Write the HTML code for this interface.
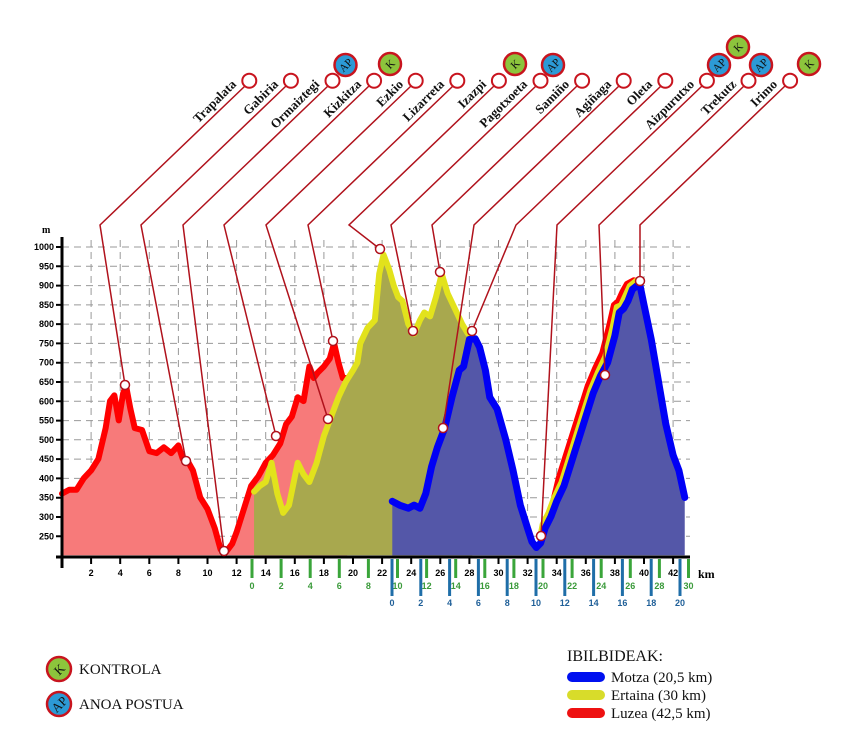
<!DOCTYPE html>
<html><head><meta charset="utf-8"><style>
html,body{margin:0;padding:0;background:#fff;}
svg{display:block;}
</style></head><body>
<svg width="850" height="743" viewBox="0 0 850 743" xmlns="http://www.w3.org/2000/svg">
<rect width="850" height="743" fill="#fff"/>
<!-- grid -->
<g stroke="#999" stroke-width="1" stroke-dasharray="7,5">
<path d="M62,247H690M62,266.3H690M62,285.6H690M62,304.9H690M62,324.1H690M62,343.4H690M62,362.7H690M62,382H690M62,401.3H690M62,420.6H690M62,439.8H690M62,459.1H690M62,478.4H690M62,497.7H690M62,517H690M62,536.3H690"/>
<path d="M91.1,240V555M120.2,240V555M149.3,240V555M178.4,240V555M207.5,240V555M236.6,240V555M265.7,240V555M294.8,240V555M323.9,240V555M353,240V555M382.1,240V555M411.2,240V555M440.3,240V555M469.4,240V555M498.5,240V555M527.6,240V555M556.7,240V555M585.8,240V555M614.9,240V555M644,240V555M673.1,240V555"/>
</g>
<!-- profiles in data coords -->
<g transform="translate(62,632.3) scale(14.55,-0.3853)">
<polygon fill="#f77a7a" points="0,200 0,360 0.5,370 1,370 1.5,400 2,420 2.5,450 3,530 3.3,600 3.6,615 3.9,550 4.2,620 4.4,640 4.7,580 5,530 5.5,525 6,470 6.5,465 7,480 7.5,465 8,485 8.3,450 8.7,440 9,420 9.5,350 10,320 10.5,270 10.9,215 11.3,210 11.7,230 12,260 12.5,320 13,380 13.5,405 14,440 14.5,460 15,490 15.4,540 15.8,560 16.2,610 16.6,600 17,690 17.3,660 17.6,675 18,690 18.4,710 18.7,750 19,700 19.3,660 19.6,660 19.6,200"/>
<polyline fill="none" stroke="#f00" stroke-width="6" vector-effect="non-scaling-stroke" stroke-linejoin="round" stroke-linecap="round" points="0,360 0.5,370 1,370 1.5,400 2,420 2.5,450 3,530 3.3,600 3.6,615 3.9,550 4.2,620 4.4,640 4.7,580 5,530 5.5,525 6,470 6.5,465 7,480 7.5,465 8,485 8.3,450 8.7,440 9,420 9.5,350 10,320 10.5,270 10.9,215 11.3,210 11.7,230 12,260 12.5,320 13,380 13.5,405 14,440 14.5,460 15,490 15.4,540 15.8,560 16.2,610 16.6,600 17,690 17.3,660 17.6,675 18,690 18.4,710 18.7,750 19,700 19.3,660 19.6,660"/>
<!-- right-side red/yellow offset lines -->
<polyline fill="none" stroke="#f00" stroke-width="5" vector-effect="non-scaling-stroke" stroke-linejoin="round" points="32.9,260 33.2,290 33.6,320 34.1,400 34.6,460 35.1,520 35.6,580 36.1,640 36.6,685 37.1,725 37.6,800 37.9,850 38.2,860 38.5,885 38.8,905 39.3,915 39.7,910"/>
<polygon fill="#a8a84e" points="13.2,200 13.2,365 13.6,380 14,390 14.4,440 14.8,360 15.2,310 15.6,330 16.2,440 16.6,410 17,390 17.5,440 18,510 18.5,560 19,610 19.5,650 20,680 20.3,700 20.5,750 21,790 21.5,810 21.8,930 22.1,980 22.5,940 22.8,900 23.1,870 23.4,860 23.8,800 24.2,775 24.6,810 24.9,830 25.3,820 25.7,870 26.1,930 26.5,880 27,840 27.5,800 27.9,775 28.2,770 28.2,200"/>
<polyline fill="none" stroke="#e2e21c" stroke-width="6" vector-effect="non-scaling-stroke" stroke-linejoin="round" stroke-linecap="round" points="13.2,365 13.6,380 14,390 14.4,440 14.8,360 15.2,310 15.6,330 16.2,440 16.6,410 17,390 17.5,440 18,510 18.5,560 19,610 19.5,650 20,680 20.3,700 20.5,750 21,790 21.5,810 21.8,930 22.1,980 22.5,940 22.8,900 23.1,870 23.4,860 23.8,800 24.2,775 24.6,810 24.9,830 25.3,820 25.7,870 26.1,930 26.5,880 27,840 27.5,800 27.9,775 28.2,770"/>
<polyline fill="none" stroke="#e2e21c" stroke-width="5" vector-effect="non-scaling-stroke" stroke-linejoin="round" points="32.8,240 33.0,280 33.4,310 33.8,350 34.3,390 34.8,450 35.3,510 35.8,570 36.3,630 36.8,675 37.3,715 37.8,790 38.1,845 38.4,850 38.7,875 39.0,900 39.5,915"/>
<polygon fill="#5457a8" points="22.7,200 22.7,340 23.2,330 23.8,322 24.2,330 24.6,322 25,360 25.4,430 25.8,480 26.3,530 26.8,610 27.3,680 27.6,690 28,760 28.4,762 28.7,740 29.1,680 29.4,610 29.9,580 30.5,500 31,420 31.5,330 32,270 32.3,235 32.6,220 32.9,232 33.2,270 33.6,300 34,340 34.5,380 35,440 35.5,500 36,560 36.5,620 37,665 37.5,700 38,770 38.3,830 38.6,840 38.9,860 39.2,890 39.7,905 40,850 40.5,760 41,650 41.5,540 42,460 42.4,420 42.8,350 42.8,200"/>
<polyline fill="none" stroke="#0000f5" stroke-width="7" vector-effect="non-scaling-stroke" stroke-linejoin="round" stroke-linecap="round" points="22.7,340 23.2,330 23.8,322 24.2,330 24.6,322 25,360 25.4,430 25.8,480 26.3,530 26.8,610 27.3,680 27.6,690 28,760 28.4,762 28.7,740 29.1,680 29.4,610 29.9,580 30.5,500 31,420 31.5,330 32,270 32.3,235 32.6,220 32.9,232 33.2,270 33.6,300 34,340 34.5,380 35,440 35.5,500 36,560 36.5,620 37,665 37.5,700 38,770 38.3,830 38.6,840 38.9,860 39.2,890 39.7,905 40,850 40.5,760 41,650 41.5,540 42,460 42.4,420 42.8,350"/>
</g>
<!-- axes -->
<g stroke="#000">
<line x1="62" y1="237" x2="62" y2="568" stroke-width="3"/>
<line x1="56" y1="557" x2="690" y2="557" stroke-width="3"/>
<path stroke-width="2" d="M56,247H62M56,266.3H62M56,285.6H62M56,304.9H62M56,324.1H62M56,343.4H62M56,362.7H62M56,382H62M56,401.3H62M56,420.6H62M56,439.8H62M56,459.1H62M56,478.4H62M56,497.7H62M56,517H62M56,536.3H62"/>
<path stroke-width="2" d="M91.1,557V564M120.2,557V564M149.3,557V564M178.4,557V564M207.5,557V564M236.6,557V564M265.7,557V564M294.8,557V564M323.9,557V564M353,557V564M382.1,557V564M411.2,557V564M440.3,557V564M469.4,557V564M498.5,557V564M527.6,557V564M556.7,557V564M585.8,557V564M614.9,557V564M644,557V564M673.1,557V564"/>
</g>
<g font-family="Liberation Sans, sans-serif" font-size="9" font-weight="bold" text-anchor="end" fill="#000">
<text x="54" y="250">1000</text><text x="54" y="269.3">950</text><text x="54" y="288.6">900</text><text x="54" y="307.9">850</text><text x="54" y="327.1">800</text><text x="54" y="346.4">750</text><text x="54" y="365.7">700</text><text x="54" y="385">650</text><text x="54" y="404.3">600</text><text x="54" y="423.6">550</text><text x="54" y="442.8">500</text><text x="54" y="462.1">450</text><text x="54" y="481.4">400</text><text x="54" y="500.7">350</text><text x="54" y="520">300</text><text x="54" y="539.3">250</text>
</g>
<text x="42" y="233" font-family="Liberation Serif, serif" font-size="10" font-weight="bold">m</text>
<g font-family="Liberation Sans, sans-serif" font-size="9" font-weight="bold" text-anchor="middle" fill="#000">
<text x="91.1" y="576">2</text><text x="120.2" y="576">4</text><text x="149.3" y="576">6</text><text x="178.4" y="576">8</text><text x="207.5" y="576">10</text><text x="236.6" y="576">12</text><text x="265.7" y="576">14</text><text x="294.8" y="576">16</text><text x="323.9" y="576">18</text><text x="353" y="576">20</text><text x="382.1" y="576">22</text><text x="411.2" y="576">24</text><text x="440.3" y="576">26</text><text x="469.4" y="576">28</text><text x="498.5" y="576">30</text><text x="527.6" y="576">32</text><text x="556.7" y="576">34</text><text x="585.8" y="576">36</text><text x="614.9" y="576">38</text><text x="644" y="576">40</text><text x="673.1" y="576">42</text>
</g>
<text x="698" y="578" font-family="Liberation Serif, serif" font-size="12" font-weight="bold">km</text>
<!-- green ticks -->
<g stroke="#3aa53a" stroke-width="3">
<path d="M252,559V578M281.1,559V578M310.2,559V578M339.3,559V578M368.4,559V578M397.5,559V578M426.6,559V578M455.7,559V578M484.8,559V578M513.9,559V578M543,559V578M572.1,559V578M601.2,559V578M630.3,559V578M659.4,559V578M688.5,559V578"/>
</g>
<g font-family="Liberation Sans, sans-serif" font-size="9" font-weight="bold" text-anchor="middle" fill="#3a9a3a">
<text x="252" y="589">0</text><text x="281.1" y="589">2</text><text x="310.2" y="589">4</text><text x="339.3" y="589">6</text><text x="368.4" y="589">8</text><text x="397.5" y="589">10</text><text x="426.6" y="589">12</text><text x="455.7" y="589">14</text><text x="484.8" y="589">16</text><text x="513.9" y="589">18</text><text x="543" y="589">20</text><text x="572.1" y="589">22</text><text x="601.2" y="589">24</text><text x="630.3" y="589">26</text><text x="659.4" y="589">28</text><text x="688.5" y="589">30</text>
</g>
<g stroke="#1f6ea8" stroke-width="3">
<path d="M392,559V596M420.8,559V596M449.6,559V596M478.4,559V596M507.2,559V596M536,559V596M564.8,559V596M593.6,559V596M622.4,559V596M651.2,559V596M680,559V596"/>
</g>
<g font-family="Liberation Sans, sans-serif" font-size="9" font-weight="bold" text-anchor="middle" fill="#1f5f98">
<text x="392" y="606">0</text><text x="420.8" y="606">2</text><text x="449.6" y="606">4</text><text x="478.4" y="606">6</text><text x="507.2" y="606">8</text><text x="536" y="606">10</text><text x="564.8" y="606">12</text><text x="593.6" y="606">14</text><text x="622.4" y="606">16</text><text x="651.2" y="606">18</text><text x="680" y="606">20</text>
</g>
<!-- leader lines -->
<g stroke="#b0121c" stroke-width="1.5" fill="none">
<polyline points="245,86 100,225 125,385"/>
<polyline points="286,86 141,225 186,461"/>
<polyline points="328,86 183,225 224,551"/>
<polyline points="369,86 224,225 276,436"/>
<polyline points="411,86 266,225 328,419"/>
<polyline points="453,86 308,225 333,341"/>
<polyline points="494,86 349,225 380,249"/>
<polyline points="536,86 391,225 413,331"/>
<polyline points="577,86 432,225 440,272"/>
<polyline points="619,86 474,225 443,428"/>
<polyline points="661,86 516,225 472,331"/>
<polyline points="702,86 557,225 541,536"/>
<polyline points="744,86 599,225 605,375"/>
<polyline points="785,86 640,225 640,281"/>
</g>
<g fill="#fff" stroke="#b0121c" stroke-width="1.5">
<circle cx="125" cy="385" r="4.5"/><circle cx="186" cy="461" r="4.5"/><circle cx="224" cy="551" r="4.5"/><circle cx="276" cy="436" r="4.5"/><circle cx="328" cy="419" r="4.5"/><circle cx="333" cy="341" r="4.5"/><circle cx="380" cy="249" r="4.5"/><circle cx="413" cy="331" r="4.5"/><circle cx="440" cy="272" r="4.5"/><circle cx="443" cy="428" r="4.5"/><circle cx="472" cy="331" r="4.5"/><circle cx="541" cy="536" r="4.5"/><circle cx="605" cy="375" r="4.5"/><circle cx="640" cy="281" r="4.5"/>
</g>
<g fill="#fff" stroke="#c8141e" stroke-width="2">
<circle cx="249.3" cy="80.7" r="7"/><circle cx="290.9" cy="80.7" r="7"/><circle cx="332.5" cy="80.7" r="7"/><circle cx="374.1" cy="80.7" r="7"/><circle cx="415.7" cy="80.7" r="7"/><circle cx="457.3" cy="80.7" r="7"/><circle cx="498.9" cy="80.7" r="7"/><circle cx="540.5" cy="80.7" r="7"/><circle cx="582.1" cy="80.7" r="7"/><circle cx="623.7" cy="80.7" r="7"/><circle cx="665.3" cy="80.7" r="7"/><circle cx="706.9" cy="80.7" r="7"/><circle cx="748.5" cy="80.7" r="7"/><circle cx="790.1" cy="80.7" r="7"/>
</g>
<g font-family="Liberation Serif, serif" font-size="13" font-weight="bold" text-anchor="end" fill="#111">
<text transform="translate(237,85) rotate(-45)">Trapalata</text>
<text transform="translate(279,85) rotate(-45)">Gabiria</text>
<text transform="translate(320,85) rotate(-45)">Ormaiztegi</text>
<text transform="translate(362,85) rotate(-45)">Kizkitza</text>
<text transform="translate(404,85) rotate(-45)">Ezkio</text>
<text transform="translate(445,85) rotate(-45)">Lizarreta</text>
<text transform="translate(487,85) rotate(-45)">Izazpi</text>
<text transform="translate(528,85) rotate(-45)">Pagotxoeta</text>
<text transform="translate(570,85) rotate(-45)">Samiño</text>
<text transform="translate(612,85) rotate(-45)">Agiñaga</text>
<text transform="translate(653,85) rotate(-45)">Oleta</text>
<text transform="translate(695,85) rotate(-45)">Aizpurutxo</text>
<text transform="translate(737,85) rotate(-45)">Trekutz</text>
<text transform="translate(778,85) rotate(-45)">Irimo</text>
</g>
<!-- badges -->
<g font-family="Liberation Serif, serif" font-size="11" text-anchor="middle" fill="#111" stroke-width="2.5">
<g transform="translate(345.5,65)"><circle r="11" fill="#2c9ad6" stroke="#c8141e"/><text transform="rotate(-45)" y="4">AP</text></g>
<g transform="translate(390,64)"><circle r="11" fill="#8cc43c" stroke="#c8141e"/><text transform="rotate(-45)" y="4">K</text></g>
<g transform="translate(515,64)"><circle r="11" fill="#8cc43c" stroke="#c8141e"/><text transform="rotate(-45)" y="4">K</text></g>
<g transform="translate(553,65)"><circle r="11" fill="#2c9ad6" stroke="#c8141e"/><text transform="rotate(-45)" y="4">AP</text></g>
<g transform="translate(719,65)"><circle r="11" fill="#2c9ad6" stroke="#c8141e"/><text transform="rotate(-45)" y="4">AP</text></g>
<g transform="translate(738,47)"><circle r="11" fill="#8cc43c" stroke="#c8141e"/><text transform="rotate(-45)" y="4">K</text></g>
<g transform="translate(761,65)"><circle r="11" fill="#2c9ad6" stroke="#c8141e"/><text transform="rotate(-45)" y="4">AP</text></g>
<g transform="translate(809,64)"><circle r="11" fill="#8cc43c" stroke="#c8141e"/><text transform="rotate(-45)" y="4">K</text></g>
</g>
<!-- legend left -->
<g font-family="Liberation Serif, serif" fill="#111">
<g transform="translate(59,669)" stroke-width="2.5"><circle r="12" fill="#8cc43c" stroke="#c8141e"/><text transform="rotate(-45)" y="5" font-size="13" text-anchor="middle">K</text></g>
<text x="79" y="674" font-size="15">KONTROLA</text>
<g transform="translate(59,704)" stroke-width="2.5"><circle r="12" fill="#2c9ad6" stroke="#c8141e"/><text transform="rotate(-45)" y="5" font-size="13" text-anchor="middle">AP</text></g>
<text x="79" y="709" font-size="15">ANOA POSTUA</text>
<text x="567" y="661" font-size="16">IBILBIDEAK:</text>
<rect x="567" y="672" width="38" height="10" rx="5" fill="#0010f0"/>
<rect x="567" y="690" width="38" height="10" rx="5" fill="#d8dc2a"/>
<rect x="567" y="708" width="38" height="10" rx="5" fill="#ee1111"/>
<text x="611" y="682" font-size="15">Motza (20,5 km)</text>
<text x="611" y="700" font-size="15">Ertaina (30 km)</text>
<text x="611" y="718" font-size="15">Luzea (42,5 km)</text>
</g>
</svg>
</body></html>
